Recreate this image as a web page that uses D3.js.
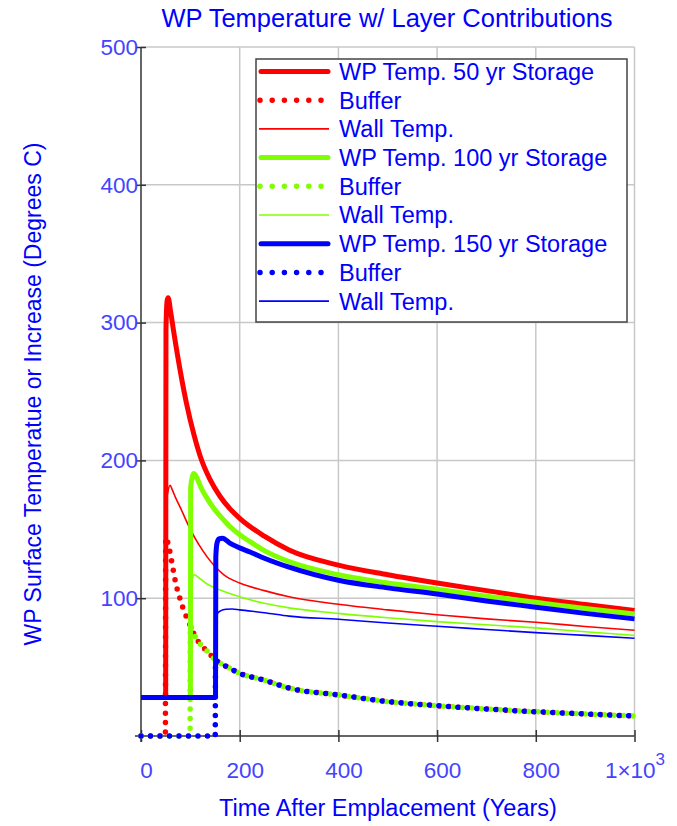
<!DOCTYPE html>
<html>
<head>
<meta charset="utf-8">
<script src="https://cdn.jsdelivr.net/npm/d3@7"></script>
<style>
  body { margin: 0; background: #fff; }
  text { font-family: "Liberation Sans", Arial, sans-serif; }
</style>
</head>
<body>
<script>
// values: [time (years), temperature (C)]
var xTicks = [0, 200, 400, 600, 800, 1000];
var yTicks = [0, 100, 200, 300, 400, 500];

var redWP = [[0,28],[50,28],[50.6,295],[53,316],[55,318],[60,308],[66,294],[80,264],[93,240],[107,219],[120,203],[140,186],[160,174],[180,165],[200,158],[250,145],[300,135],[400,124],[500,117],[600,111],[700,105.5],[800,100],[900,95.5],[1000,91]];
var greenWP = [[0,28],[100,28],[100.6,180],[104,188],[107,190.5],[111,189],[116,185],[122,180],[133,173],[150,164],[167,157],[180,152],[200,146],[221,141],[250,134.5],[300,126.5],[400,117],[500,111],[600,106.5],[700,101.5],[800,97],[900,92.5],[1000,88.5]];
var blueWP = [[0,28],[151,28],[151.6,130],[154,140],[158,143],[165,143.5],[180,140],[200,136.5],[221,133.5],[250,129],[300,122.5],[400,113],[500,107.5],[600,103],[700,98],[800,93.5],[900,89],[1000,85]];

var redWall = [[0,28],[50,28],[50.6,165],[55,178],[59,182],[63,179],[70,173],[80,165.5],[100,150],[117,139],[134,130],[150,123],[168,117],[200,111],[250,105.5],[300,101],[400,95.6],[500,91.5],[600,88],[700,85],[800,82.5],[900,79.5],[1000,76.7]];
var greenWall = [[0,28],[100,28],[100.6,105],[104,114],[108,117],[113,116],[120,114],[133,110.5],[150,107.5],[167,105],[200,101],[250,96.3],[300,93],[400,89],[500,85.8],[600,83],[700,80.7],[800,78.5],[900,75.7],[1000,73]];
var blueWall = [[0,28],[151,28],[151.6,85],[155,89],[162,91],[172,92],[185,92.2],[200,91.5],[250,89.5],[300,87],[400,84.7],[500,82],[600,79.6],[700,77.3],[800,75],[900,73],[1000,70.9]];

// buffer contribution is the same decay after each emplacement
var bufferDecay = [[50,144],[52,143],[56,138],[60,131],[65,121],[71,110],[77,102],[84,94],[95,84],[100,80],[106,75],[116,68.5],[127,64],[136,61],[151,55],[155,54],[174,50.3],[200,45.5],[249,40.6],[300,34.8],[400,29.8],[500,25],[600,22],[700,19.6],[800,17.6],[900,16],[1000,14.5]];
var emplaceTimes = [50, 100, 151];

var seriesColors = ["#ff0000", "#80ff00", "#0000ff"];
var legendLabels = ["WP Temp. 50 yr Storage", "Buffer", "Wall Temp.",
                    "WP Temp. 100 yr Storage", "Buffer", "Wall Temp.",
                    "WP Temp. 150 yr Storage", "Buffer", "Wall Temp."];

function bufferSeries(te) {
  // zero until emplacement, then the shared decay
  return [[0,0],[te - 0.6,0]].concat(bufferDecay.filter(function(d){ return d[0] >= te; }));
}

var w = 677, h = 826;
var plotLeft = 141, plotRight = 634.5, plotTop = 47, plotBottom = 736;

var svg = d3.select("body").append("svg")
            .attr("width", w)
            .attr("height", h);

var x = d3.scaleLinear().domain([0, 1000]).range([plotLeft, plotRight]);
var y = d3.scaleLinear().domain([0, 500]).range([plotBottom, plotTop]);

// grid
svg.append("g").selectAll("line")
   .data(xTicks.slice(1)).enter().append("line")
   .attr("x1", function(d){ return x(d); }).attr("x2", function(d){ return x(d); })
   .attr("y1", plotTop).attr("y2", plotBottom)
   .attr("stroke", "#c8c8c8").attr("stroke-width", 1.5);
svg.append("g").selectAll("line")
   .data(yTicks.slice(1)).enter().append("line")
   .attr("x1", plotLeft).attr("x2", plotRight)
   .attr("y1", function(d){ return y(d); }).attr("y2", function(d){ return y(d); })
   .attr("stroke", "#c8c8c8").attr("stroke-width", 1.5);

// axes
var xAxis = d3.axisBottom(x).tickValues(xTicks).tickSize(6)
              .tickFormat(function(d){ return d == 1000 ? "1\u00d710" : d; });
var gx = svg.append("g").attr("transform", "translate(0," + plotBottom + ")").call(xAxis);
gx.select(".domain").remove();
gx.selectAll(".tick line").attr("y1", -6).attr("y2", 6).attr("stroke", "#333").attr("stroke-width", 1.5);
gx.selectAll(".tick text")
  .attr("y", 26).attr("dx", 5)
  .style("font-size", "22.5px").style("fill", "#4444ff");
gx.selectAll(".tick text").filter(function(d){ return d == 1000; })
  .attr("dx", 0)
  .append("tspan").attr("dy", "-0.75em").style("font-size", "17px").text("3");

var yAxis = d3.axisLeft(y).tickValues(yTicks.slice(1)).tickSize(5);
var gy = svg.append("g").attr("transform", "translate(" + plotLeft + ",0)").call(yAxis);
gy.select(".domain").remove();
gy.selectAll(".tick line").attr("x1", -5).attr("x2", 5).attr("stroke", "#333").attr("stroke-width", 1.5);
gy.selectAll(".tick text")
  .attr("x", -3)
  .style("font-size", "22.5px").style("fill", "#4444ff");

svg.append("line").attr("x1", plotLeft - 6).attr("x2", plotRight)
   .attr("y1", plotBottom).attr("y2", plotBottom).attr("stroke", "#333").attr("stroke-width", 1.5);
svg.append("line").attr("x1", plotLeft).attr("x2", plotLeft)
   .attr("y1", plotTop).attr("y2", plotBottom + 6).attr("stroke", "#333").attr("stroke-width", 1.5);

// curves
var line = d3.line()
             .x(function(d){ return x(d[0]); })
             .y(function(d){ return y(d[1]); })
             .curve(d3.curveMonotoneX);

var wpSets = [redWP, greenWP, blueWP];
var wallSets = [redWall, greenWall, blueWall];

for (let i = 0; i < 3; i++) {
  svg.append("path").datum(wpSets[i]).attr("d", line)
     .attr("fill", "none").attr("stroke", seriesColors[i])
     .attr("stroke-width", 5).attr("stroke-linejoin", "round");
  svg.append("path").datum(bufferSeries(emplaceTimes[i])).attr("d", line)
     .attr("fill", "none").attr("stroke", seriesColors[i])
     .attr("stroke-width", 5.5).attr("stroke-linecap", "round")
     .attr("stroke-dasharray", "0 9.5");
  svg.append("path").datum(wallSets[i]).attr("d", line)
     .attr("fill", "none").attr("stroke", seriesColors[i])
     .attr("stroke-width", 1.6).attr("stroke-linejoin", "round");
}

// legend
var lg = svg.append("g");
lg.append("rect").attr("x", 256).attr("y", 59).attr("width", 371).attr("height", 263)
  .attr("fill", "#fff").attr("stroke", "#444").attr("stroke-width", 1.5);
for (let i = 0; i < legendLabels.length; i++) {
  let yy = 71.5 + i * 28.7;
  let kind = i % 3;
  let c = seriesColors[Math.floor(i / 3)];
  let ln = lg.append("line").attr("y1", yy).attr("y2", yy).attr("stroke", c);
  if (kind == 0) {
    ln.attr("x1", 261).attr("x2", 328).attr("stroke-width", 5).attr("stroke-linecap", "round");
  } else if (kind == 1) {
    ln.attr("x1", 260).attr("x2", 321).attr("stroke-width", 5.5)
      .attr("stroke-linecap", "round").attr("stroke-dasharray", "0 12.2");
  } else {
    ln.attr("x1", 259).attr("x2", 329).attr("stroke-width", 1.6);
  }
  lg.append("text").attr("x", 339).attr("y", yy).attr("dy", "0.36em")
    .style("font-size", "23.5px").style("fill", "#0000ff")
    .text(legendLabels[i]);
}

// titles
svg.append("text").attr("x", 387).attr("y", 27)
   .style("text-anchor", "middle").style("font-size", "25.5px").style("fill", "#0000ff")
   .text("WP Temperature w/ Layer Contributions");
svg.append("text").attr("x", 388).attr("y", 816)
   .style("text-anchor", "middle").style("font-size", "23.5px").style("fill", "#0000ff")
   .text("Time After Emplacement (Years)");
svg.append("text")
   .attr("transform", "translate(41,394) rotate(-90)")
   .style("text-anchor", "middle").style("font-size", "23px").style("fill", "#0000ff")
   .text("WP Surface Temperatue or Increase (Degrees C)");
</script>
</body>
</html>
